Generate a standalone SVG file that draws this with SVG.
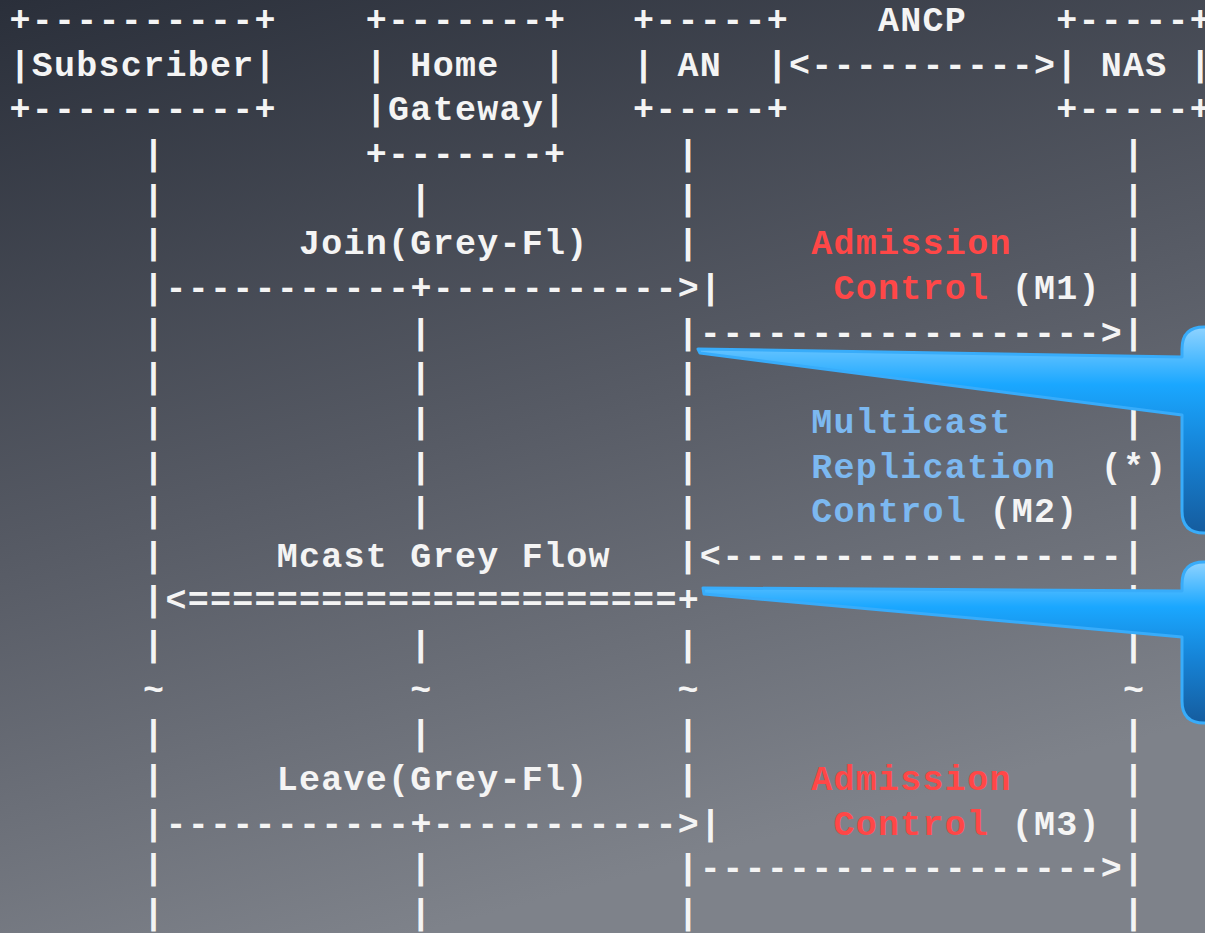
<svg xmlns="http://www.w3.org/2000/svg" width="1205" height="933" viewBox="0 0 1205 933">
  <defs>
    <linearGradient id="bg" x1="0" y1="0" x2="0.35" y2="1">
      <stop offset="0" stop-color="#2a2f3a"/>
      <stop offset="0.55" stop-color="#585c66"/>
      <stop offset="1" stop-color="#7e828a"/>
    </linearGradient>
    <linearGradient id="bubbleFill" x1="0" y1="0" x2="0" y2="1">
      <stop offset="0" stop-color="#8fd3ff"/>
      <stop offset="0.28" stop-color="#1aa7ff"/>
      <stop offset="0.6" stop-color="#1683d6"/>
      <stop offset="1" stop-color="#155c9e"/>
    </linearGradient>
    <style>
      .t { font-family: "Liberation Mono", "DejaVu Sans Mono", monospace; font-weight: bold; font-size: 35px; letter-spacing: 1.27px; fill: #f4f4f4; }
      .red { fill: #ff4747; }
      .blue { fill: #7cb8f0; }
      .bubble { fill: url(#bubbleFill); stroke: #38acfa; stroke-width: 3; stroke-linejoin: round; }
    </style>
  </defs>

  <rect width="1205" height="933" fill="url(#bg)"/>

  <!-- character grid: x = 9.5 + 22.27*col ; baselines: y = 31 + 44.65*row -->
  <g id="node-subscriber" class="t">
    <text x="9.5" y="31">+----------+</text>
    <text x="9.5" y="75.65">|Subscriber|</text>
    <text x="9.5" y="120.3">+----------+</text>
  </g>

  <g id="node-home-gateway" class="t">
    <text x="365.82" y="31">+-------+</text>
    <text x="365.82" y="75.65">|&#160;Home&#160;&#160;|</text>
    <text x="365.82" y="120.3">|Gateway|</text>
    <text x="365.82" y="164.95">+-------+</text>
  </g>

  <g id="node-an" class="t">
    <text x="633.06" y="31">+-----+</text>
    <text x="633.06" y="75.65">|&#160;AN&#160;&#160;|</text>
    <text x="633.06" y="120.3">+-----+</text>
  </g>

  <g id="node-nas" class="t">
    <text x="1056.19" y="31">+-----+</text>
    <text x="1056.19" y="75.65">|&#160;NAS&#160;|</text>
    <text x="1056.19" y="120.3">+-----+</text>
  </g>

  <g id="connectors" class="t">
    <!-- ANCP session between AN and NAS -->
    <text x="878.03" y="31">ANCP</text>
    <text x="788.95" y="75.65">&lt;----------&gt;</text>

    <!-- Subscriber lifeline (col 6) -->
    <text>
      <tspan x="143.12" y="164.95">|</tspan>
      <tspan x="143.12" y="209.6">|</tspan>
      <tspan x="143.12" y="254.25">|</tspan>
      <tspan x="143.12" y="343.55">|</tspan>
      <tspan x="143.12" y="388.2">|</tspan>
      <tspan x="143.12" y="432.85">|</tspan>
      <tspan x="143.12" y="477.5">|</tspan>
      <tspan x="143.12" y="522.15">|</tspan>
      <tspan x="143.12" y="566.8">|</tspan>
      <tspan x="143.12" y="656.1">|</tspan>
      <tspan x="143.12" y="700.75">~</tspan>
      <tspan x="143.12" y="745.4">|</tspan>
      <tspan x="143.12" y="790.05">|</tspan>
      <tspan x="143.12" y="879.35">|</tspan>
      <tspan x="143.12" y="924">|</tspan>
    </text>

    <!-- Home Gateway lifeline (col 18) -->
    <text>
      <tspan x="410.36" y="209.6">|</tspan>
      <tspan x="410.36" y="343.55">|</tspan>
      <tspan x="410.36" y="388.2">|</tspan>
      <tspan x="410.36" y="432.85">|</tspan>
      <tspan x="410.36" y="477.5">|</tspan>
      <tspan x="410.36" y="522.15">|</tspan>
      <tspan x="410.36" y="656.1">|</tspan>
      <tspan x="410.36" y="700.75">~</tspan>
      <tspan x="410.36" y="745.4">|</tspan>
      <tspan x="410.36" y="879.35">|</tspan>
      <tspan x="410.36" y="924">|</tspan>
    </text>

    <!-- AN lifeline (col 30) -->
    <text>
      <tspan x="677.6" y="164.95">|</tspan>
      <tspan x="677.6" y="209.6">|</tspan>
      <tspan x="677.6" y="254.25">|</tspan>
      <tspan x="677.6" y="388.2">|</tspan>
      <tspan x="677.6" y="432.85">|</tspan>
      <tspan x="677.6" y="477.5">|</tspan>
      <tspan x="677.6" y="522.15">|</tspan>
      <tspan x="677.6" y="656.1">|</tspan>
      <tspan x="677.6" y="700.75">~</tspan>
      <tspan x="677.6" y="745.4">|</tspan>
      <tspan x="677.6" y="790.05">|</tspan>
      <tspan x="677.6" y="924">|</tspan>
    </text>

    <!-- NAS lifeline (col 50) -->
    <text>
      <tspan x="1123" y="164.95">|</tspan>
      <tspan x="1123" y="209.6">|</tspan>
      <tspan x="1123" y="254.25">|</tspan>
      <tspan x="1123" y="298.9">|</tspan>
      <tspan x="1123" y="388.2">|</tspan>
      <tspan x="1123" y="432.85">|</tspan>
      <tspan x="1123" y="522.15">|</tspan>
      <tspan x="1123" y="611.45">|</tspan>
      <tspan x="1123" y="656.1">|</tspan>
      <tspan x="1123" y="700.75">~</tspan>
      <tspan x="1123" y="745.4">|</tspan>
      <tspan x="1123" y="790.05">|</tspan>
      <tspan x="1123" y="834.7">|</tspan>
      <tspan x="1123" y="924">|</tspan>
    </text>

    <!-- Join: Subscriber -> AN, via Home Gateway -->
    <text x="143.12" y="298.9">|-----------+-----------&gt;|</text>
    <!-- M1: AN -> NAS -->
    <text x="677.6" y="343.55">|------------------&gt;|</text>
    <!-- M2: NAS -> AN -->
    <text x="677.6" y="566.8">|&lt;------------------|</text>
    <!-- Multicast flow: AN -> Subscriber -->
    <text x="143.12" y="611.45">|&lt;======================+</text>
    <!-- Leave: Subscriber -> AN -->
    <text x="143.12" y="834.7">|-----------+-----------&gt;|</text>
    <!-- M3: AN -> NAS -->
    <text x="677.6" y="879.35">|------------------&gt;|</text>
  </g>

  <g id="labels" class="t">
    <text x="299.01" y="254.25">Join(Grey-Fl)</text>
    <text x="811.22" y="254.25" class="t red">Admission</text>
    <text x="833.49" y="298.9"><tspan class="red">Control</tspan> (M1)</text>

    <text x="811.22" y="432.85" class="t blue">Multicast</text>
    <text x="811.22" y="477.5"><tspan class="blue">Replication</tspan>&#160;&#160;(*)</text>
    <text x="811.22" y="522.15"><tspan class="blue">Control</tspan> (M2)</text>

    <text x="276.74" y="566.8">Mcast Grey Flow</text>

    <text x="276.74" y="790.05">Leave(Grey-Fl)</text>
    <text x="811.22" y="790.05" class="t red">Admission</text>
    <text x="833.49" y="834.7"><tspan class="red">Control</tspan> (M3)</text>
  </g>

  <!-- speech-bubble callouts pointing at the M1 and M2 messages -->
  <g id="callouts">
    <path class="bubble" d="M698,349 L1182,357 L1182,349 Q1182,327 1204,327 L1240,327 L1240,533 L1204,533 Q1182,533 1182,511 L1182,415 L700,353 Z"/>
    <path class="bubble" d="M703,588 L1182,591 L1182,584 Q1182,562 1204,562 L1240,562 L1240,723 L1204,723 Q1182,723 1182,701 L1182,637 L704,594 Z"/>
  </g>
</svg>
